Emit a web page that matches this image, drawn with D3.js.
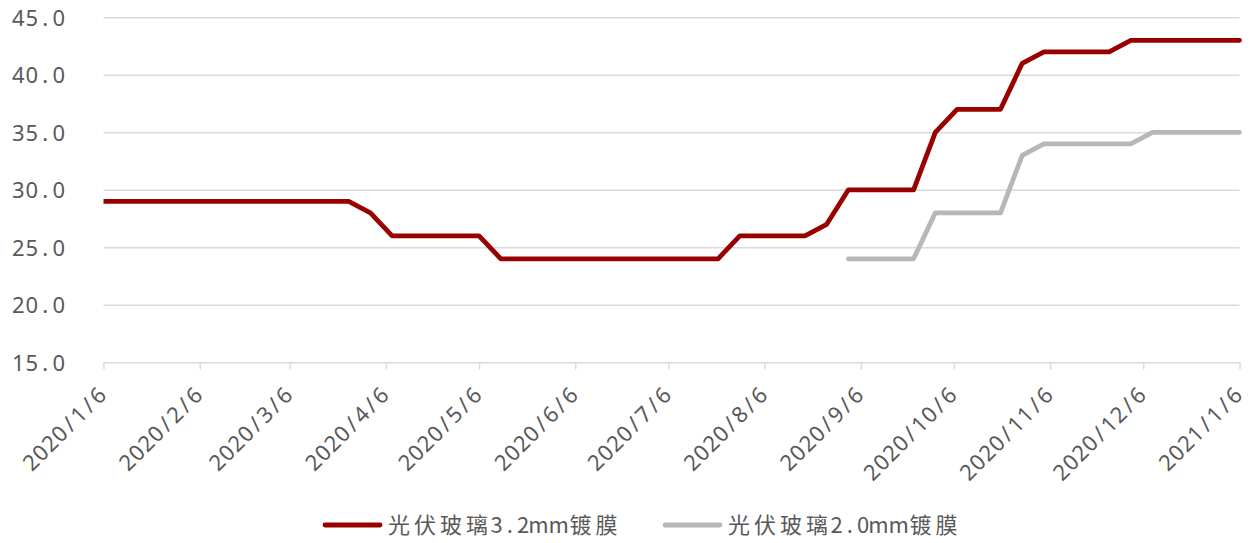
<!DOCTYPE html>
<html><head><meta charset="utf-8">
<script src="https://cdn.jsdelivr.net/npm/d3@7"></script>
<style>body{margin:0;background:#fff}svg{display:block}</style>
</head><body>
<svg id="c" width="1251" height="543"></svg>
<script>
// ---- data ----
const dates = [
 "2020-01-01","2020-01-08","2020-01-15","2020-01-22","2020-01-29","2020-02-05","2020-02-12","2020-02-19","2020-02-26",
 "2020-03-04","2020-03-11","2020-03-18","2020-03-25","2020-04-01","2020-04-08","2020-04-15","2020-04-22","2020-04-29",
 "2020-05-06","2020-05-13","2020-05-20","2020-05-27","2020-06-03","2020-06-10","2020-06-17","2020-06-24","2020-07-01",
 "2020-07-08","2020-07-15","2020-07-22","2020-07-29","2020-08-05","2020-08-12","2020-08-19","2020-08-26","2020-09-02",
 "2020-09-09","2020-09-16","2020-09-23","2020-09-30","2020-10-07","2020-10-14","2020-10-21","2020-10-28","2020-11-04",
 "2020-11-11","2020-11-18","2020-11-25","2020-12-02","2020-12-09","2020-12-16","2020-12-23","2020-12-30","2021-01-06"];
const glass32 = [
 29,29,29,29,29,29,29,29,29,
 29,29,29,29,28,26,26,26,26,
 26,24,24,24,24,24,24,24,24,
 24,24,24,26,26,26,26,27,30,
 30,30,30,35,37,37,37,41,42,
 42,42,42,43,43,43,43,43,43];
const glass20 = [
 null,null,null,null,null,null,null,null,null,
 null,null,null,null,null,null,null,null,null,
 null,null,null,null,null,null,null,null,null,
 null,null,null,null,null,null,null,null,24,
 24,24,24,28,28,28,28,33,34,
 34,34,34,34,35,35,35,35,35];
const yTicks = [15,20,25,30,35,40,45];
const xTickLabels = ["2020/1/6","2020/2/6","2020/3/6","2020/4/6","2020/5/6","2020/6/6","2020/7/6",
 "2020/8/6","2020/9/6","2020/10/6","2020/11/6","2020/12/6","2021/1/6"];
const seriesNames = ["光伏玻璃3.2mm镀膜","光伏玻璃2.0mm镀膜"];
const seriesColors = ["#990000","#b7b7b7"];

// ---- setup ----
const svg = d3.select("#c");
const parseD = d3.timeParse("%Y-%m-%d");
const parseT = d3.timeParse("%Y/%m/%d");
const tickDates = xTickLabels.map(parseT);
const x = d3.scaleTime().domain([tickDates[0], tickDates[tickDates.length-1]]).range([103.5, 1239.5]);
const y = d3.scaleLinear().domain([15,45]).range([362.3, 17.3]);
const AXFONT = "'Noto Sans','Open Sans',sans-serif";
const LGFONT = "'Noto Sans CJK SC','Noto Sans',sans-serif";
const TXT = "#595959";

// place characters in fixed-width cells (mimics half-width/full-width Chinese font metrics)
function monoFill(sel, str, aw, cw, align, mw) {
  sel.text(null);
  const runs = [];
  Array.from(str).forEach(c => {
    const w = /[\u2E80-\uFFFF]/.test(c) ? cw : (c === "m" && mw ? mw : aw);
    const last = runs[runs.length - 1];
    if (c === "m" && last && last.s[0] === "m") { last.s += c; last.w += w; }
    else runs.push({s: c, w: w});
  });
  const total = d3.sum(runs, r => r.w);
  let x0 = align === "end" ? -total : 0;
  runs.forEach(r => {
    sel.append("tspan").attr("x", x0 + r.w / 2).text(r.s);
    x0 += r.w;
  });
  sel.attr("text-anchor", "middle");
}

// gridlines + y labels
const gy = svg.append("g").attr("transform", "translate(103.5,0)")
  .call(d3.axisLeft(y).tickValues(yTicks).tickSize(-(1239.5 - 103.5)).tickFormat(d3.format(".1f")));
gy.select(".domain").remove();
gy.selectAll(".tick line").attr("stroke", "#d9d9d9").attr("stroke-width", 1.4);
gy.selectAll(".tick text").each(function(d) {
  const t = d3.select(this);
  t.attr("x", null).attr("dy", null).attr("y", 8).attr("transform", "translate(-38,0)")
   .attr("fill", TXT).attr("font-family", AXFONT).attr("font-size", 22);
  monoFill(t, d3.format(".1f")(d), 13.5, 27, "end");
});

// x axis
const gx = svg.append("g").attr("transform", `translate(0,${y(15)})`)
  .call(d3.axisBottom(x).tickValues(tickDates).tickSize(7).tickFormat((d, i) => xTickLabels[i]));
gx.select(".domain").remove();
gx.selectAll(".tick line").attr("stroke", "#d9d9d9").attr("stroke-width", 1.4);
gx.selectAll(".tick text").each(function(d, i) {
  const t = d3.select(this);
  t.attr("dy", null).attr("y", 0).attr("transform", "translate(4,34) rotate(-45)")
   .attr("fill", TXT).attr("font-family", AXFONT).attr("font-size", 22);
  monoFill(t, xTickLabels[i], 13.5, 27, "end");
});

// lines
svg.append("clipPath").attr("id", "clip").append("rect")
  .attr("x", x(tickDates[0])).attr("y", 0).attr("width", 1251 - x(tickDates[0])).attr("height", 543);
const data = dates.map((d, i) => ({date: parseD(d), a: glass32[i], b: glass20[i]}));
[["a", 0], ["b", 1]].forEach(([k, si]) => {
  const line = d3.line().defined(d => d[k] != null).x(d => x(d.date)).y(d => y(d[k]));
  svg.append("path").datum(data).attr("clip-path", "url(#clip)")
    .attr("d", line).attr("fill", "none").attr("stroke", seriesColors[si])
    .attr("stroke-width", 4.8).attr("stroke-linecap", "round").attr("stroke-linejoin", "round");
});

// legend
const legendX = [325, 665];
seriesNames.forEach((name, i) => {
  const g = svg.append("g").attr("transform", `translate(${legendX[i]},525)`);
  g.append("line").attr("x1", 0).attr("x2", 55).attr("y1", 0).attr("y2", 0)
    .attr("stroke", seriesColors[i]).attr("stroke-width", 4.8).attr("stroke-linecap", "round");
  const t = g.append("text").attr("y", 8).attr("fill", TXT)
    .attr("font-family", LGFONT).attr("font-size", 22).attr("transform", "translate(61,0)");
  monoFill(t, name, 13.2, 26, "start", 19);
});
</script>
</body></html>
